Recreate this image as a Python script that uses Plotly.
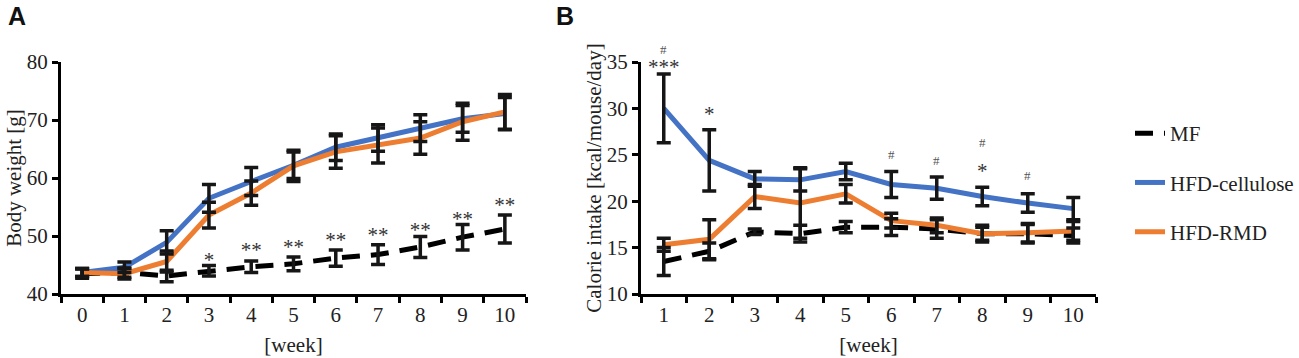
import plotly.graph_objects as go

# ---------------- data ----------------
weeks_a = [0, 1, 2, 3, 4, 5, 6, 7, 8, 9, 10]
mf_a = [43.5, 43.7, 43.1, 44.0, 44.7, 45.2, 46.2, 46.8, 48.1, 49.8, 51.2]
mf_a_err = [0.8, 0.8, 1.0, 0.9, 1.0, 1.2, 1.4, 1.7, 1.8, 2.2, 2.4]
cel_a = [43.7, 44.6, 48.9, 56.5, 59.4, 62.2, 65.3, 66.9, 68.6, 70.2, 71.1]
cel_a_err = [0.7, 0.9, 2.0, 2.4, 2.4, 2.3, 2.3, 2.3, 2.3, 2.3, 2.8]
rmd_a = [43.7, 43.5, 45.6, 53.6, 57.4, 62.1, 64.5, 65.6, 66.9, 69.7, 71.4]
rmd_a_err = [0.7, 0.9, 1.8, 2.2, 2.1, 2.7, 2.8, 3.0, 2.8, 3.2, 3.0]

weeks_b = [1, 2, 3, 4, 5, 6, 7, 8, 9, 10]
mf_b = [13.5, 14.6, 16.7, 16.5, 17.2, 17.2, 17.0, 16.5, 16.5, 16.3]
mf_b_err = [1.5, 0.9, 0.3, 0.9, 0.6, 0.9, 1.0, 0.9, 1.0, 0.8]
cel_b = [30.0, 24.4, 22.4, 22.3, 23.2, 21.8, 21.4, 20.5, 19.8, 19.2]
cel_b_err = [3.7, 3.3, 0.8, 1.2, 0.9, 1.4, 1.2, 1.0, 1.0, 1.2]
rmd_b = [15.3, 15.9, 20.5, 19.8, 20.8, 17.9, 17.4, 16.5, 16.6, 16.8]
rmd_b_err = [0.7, 2.1, 1.3, 3.8, 1.0, 0.8, 0.8, 0.7, 1.0, 1.0]

# significance marks (week, y, text)
sig_a_weeks = [3, 4, 5, 6, 7, 8, 9, 10]
sig_a_y = [45.5, 47.2, 47.8, 49.0, 49.8, 50.7, 52.6, 55.0]
sig_a_text = ["*", "**", "**", "**", "**", "**", "**", "**"]

star_b_weeks = [1, 2, 8]
star_b_y = [34.25, 29.2, 23.1]
star_b_text = ["***", "*", "*"]
hash_b_weeks = [1, 6, 7, 8, 9]
hash_b_y = [37.4, 25.0, 24.4, 26.3, 22.8]

names = ["MF", "HFD-cellulose", "HFD-RMD"]
colors = ["#000000", "#4472C4", "#ED7D31"]

W, H = 1299, 358
FONT = "Liberation Serif"
FS = 21
YB_RANGE = [10, 35]

fig = go.Figure()

def add_panel(xs, series, errs, xa, ya, legend):
    for i, (ys, name, col) in enumerate(zip(series, names, colors)):
        fig.add_trace(go.Scatter(
            x=xs, y=ys, mode="lines", name=name,
            line=dict(color=col, width=5, dash="18px,11px" if i == 0 else "solid"),
            xaxis=xa, yaxis=ya, showlegend=legend, legendgroup=name,
        ))
    for ys, er in zip(series, errs):
        fig.add_trace(go.Scatter(
            x=xs, y=ys, mode="markers", marker=dict(size=1, opacity=0),
            error_y=dict(type="data", array=er, visible=True, color="#161616",
                         thickness=3.5, width=7),
            xaxis=xa, yaxis=ya, showlegend=False, hoverinfo="skip",
        ))

add_panel(weeks_a, [mf_a, cel_a, rmd_a], [mf_a_err, cel_a_err, rmd_a_err], "x", "y", False)
add_panel(weeks_b, [mf_b, cel_b, rmd_b], [mf_b_err, cel_b_err, rmd_b_err], "x2", "y2", True)

def add_text(xs, ys, texts, xa, ya, size, color):
    fig.add_trace(go.Scatter(
        x=xs, y=ys, text=texts, mode="text", textposition="middle center",
        textfont=dict(family=FONT, size=size, color=color),
        cliponaxis=False, xaxis=xa, yaxis=ya, showlegend=False, hoverinfo="skip",
    ))

add_text(sig_a_weeks, sig_a_y, sig_a_text, "x", "y", FS, "#333")
add_text(star_b_weeks, star_b_y, star_b_text, "x2", "y2", FS, "#333")

def px_x(p):
    return p / W

def px_y(p):
    return 1 - p / H

ydom = [px_y(294), px_y(62)]

axis_common = dict(
    showline=True, linecolor="black", linewidth=3, mirror=False,
    showgrid=False, zeroline=False, automargin=False,
    tickfont=dict(family=FONT, size=FS, color="#222"),
    title_font=dict(family=FONT, size=FS, color="#222"),
)

fig.update_layout(
    template="none",
    width=W, height=H,
    margin=dict(l=0, r=0, t=0, b=0, pad=0),
    paper_bgcolor="white", plot_bgcolor="white",
    xaxis=dict(
        **axis_common, domain=[px_x(61), px_x(526)], range=[-0.5, 10.5],
        tickvals=weeks_a, ticks="", ticklen=0,
        minor=dict(tickvals=[w - 0.5 for w in weeks_a] + [10.5], ticks="outside",
                   ticklen=6, tickwidth=3, tickcolor="black"),
        title=dict(text="[week]", standoff=12), anchor="y",
    ),
    yaxis=dict(
        **axis_common, domain=ydom, range=[40, 80], tickvals=[40, 50, 60, 70, 80],
        ticks="outside", ticklen=6, tickwidth=3, tickcolor="black",
        title=dict(text="Body weight [g]", standoff=0), anchor="x",
    ),
    xaxis2=dict(
        **axis_common, domain=[px_x(641), px_x(1096)], range=[0.5, 10.5],
        tickvals=weeks_b, ticks="", ticklen=0,
        minor=dict(tickvals=[w - 0.5 for w in weeks_b] + [10.5], ticks="outside",
                   ticklen=6, tickwidth=3, tickcolor="black"),
        title=dict(text="[week]", standoff=12), anchor="y2",
    ),
    yaxis2=dict(
        **axis_common, domain=ydom, range=YB_RANGE, tickvals=[10, 15, 20, 25, 30, 35],
        ticks="outside", ticklen=6, tickwidth=3, tickcolor="black",
        title=dict(text="Calorie intake [kcal/mouse/day]", standoff=0), anchor="x2",
    ),
    legend=dict(
        x=px_x(1130), y=px_y(113), xanchor="left", yanchor="top",
        font=dict(family=FONT, size=FS, color="#222"),
        tracegroupgap=19, bgcolor="rgba(0,0,0,0)",
    ),
    showlegend=True,
)

ann = []
# "#" marks: placed on the weeks axis, vertical position via the axis domain fraction
for w, y in zip(hash_b_weeks, hash_b_y):
    ann.append(dict(x=w, y=(y - YB_RANGE[0]) / (YB_RANGE[1] - YB_RANGE[0]),
                    xref="x2", yref="y2 domain", text="#", showarrow=False,
                    font=dict(family=FONT, size=13, color="#555")))
ann.append(dict(x=px_x(6), y=px_y(16), xref="paper", yref="paper", text="<b>A</b>",
                showarrow=False, xanchor="left", yanchor="middle",
                font=dict(family="Liberation Sans", size=25, color="#111")))
ann.append(dict(x=px_x(554), y=px_y(16), xref="paper", yref="paper", text="<b>B</b>",
                showarrow=False, xanchor="left", yanchor="middle",
                font=dict(family="Liberation Sans", size=25, color="#111")))
fig.update_layout(annotations=ann)

fig.write_html("out.html", config={"displayModeBar": False},
               post_script="document.body.style.margin='0';document.body.style.overflow='hidden';")
